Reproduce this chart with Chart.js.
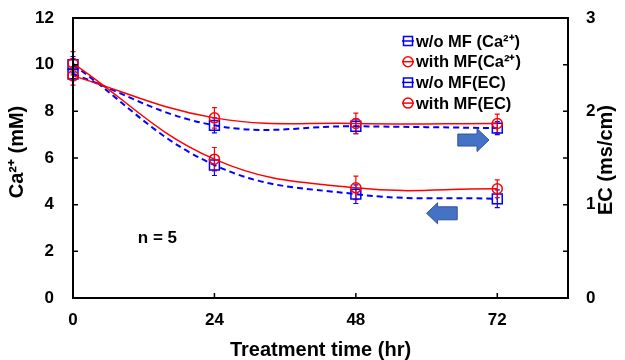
<!DOCTYPE html>
<html>
<head>
<meta charset="utf-8">
<script src="https://cdn.jsdelivr.net/npm/chart.js@4/dist/chart.umd.min.js"></script>
<style>
  html, body { margin: 0; padding: 0; background: #fff; }
</style>
</head>
<body>
<canvas id="myChart" width="625" height="360"></canvas>
<script>
// hours of treatment
const hours = [0, 24, 48, 72];
const xTicks = [0, 24, 48, 72];

// Ca2+ (mM), left axis
const caWithout = [10.0, 5.7, 4.45, 4.25];
const caWithoutErr = [0.35, 0.45, 0.4, 0.38];
const caWith = [10.06, 5.95, 4.72, 4.68];
const caWithErr = [0.5, 0.5, 0.5, 0.38];

// EC (ms/cm), right axis
const ecWithout = [2.4, 1.85, 1.84, 1.82];
const ecWithoutErr = [0.05, 0.08, 0.08, 0.07];
const ecWith = [2.38, 1.93, 1.87, 1.87];
const ecWithErr = [0.1, 0.11, 0.11, 0.1];

const legendLabels = ['w/o MF (Ca²⁺)', 'with MF(Ca²⁺)', 'w/o MF(EC)', 'with MF(EC)'];

const FONT = 'Liberation Sans, Arial, sans-serif';
Chart.defaults.font.family = FONT;
Chart.defaults.color = '#000';

const BLUE = '#0000ff';
const RED = '#ff0000';

function pts(vals) {
  return hours.map((h, i) => ({ x: h, y: vals[i] }));
}

function blueSet(label, vals, errs, axis) {
  return {
    label: label, data: pts(vals), yAxisID: axis, errors: errs,
    borderColor: BLUE, borderWidth: 2, borderDash: [6, 4],
    pointStyle: 'rect', pointRadius: 7, pointBorderWidth: 1.5,
    pointBorderColor: BLUE, pointBackgroundColor: 'rgba(0,0,0,0)',
    tension: 0.4, order: 2, clip: false
  };
}
function redSet(label, vals, errs, axis) {
  return {
    label: label, data: pts(vals), yAxisID: axis, errors: errs,
    borderColor: RED, borderWidth: 1.5,
    pointStyle: 'circle', pointRadius: 5, pointBorderWidth: 1.5,
    pointBorderColor: RED, pointBackgroundColor: 'rgba(0,0,0,0)',
    tension: 0.4, order: 1, clip: false
  };
}

// fixed axis boxes so the plot area sits where the original has it
function fixBox(size) {
  return s => {
    if (s.isHorizontal()) s.height = size; else s.width = size;
    s.paddingTop = 0; s.paddingBottom = 0;
    s.paddingLeft = 0; s.paddingRight = 0;
  };
}

// error bars, frame, inside ticks, arrows, legend, titles
const extras = {
  id: 'extras',
  beforeDatasetsDraw(chart) {
    const ctx = chart.ctx;
    const xs = chart.scales.x;
    chart.data.datasets.forEach(ds => {
      const ys = chart.scales[ds.yAxisID];
      ctx.save();
      ctx.strokeStyle = ds.borderColor;
      ctx.lineWidth = 1.2;
      ds.data.forEach((p, i) => {
        const x = xs.getPixelForValue(p.x);
        const t = ys.getPixelForValue(p.y + ds.errors[i]);
        const b = ys.getPixelForValue(p.y - ds.errors[i]);
        ctx.beginPath();
        ctx.moveTo(x, t); ctx.lineTo(x, b);
        ctx.moveTo(x - 2.5, t); ctx.lineTo(x + 2.5, t);
        ctx.moveTo(x - 2.5, b); ctx.lineTo(x + 2.5, b);
        ctx.stroke();
      });
      ctx.restore();
    });
  },
  afterDraw(chart) {
    const ctx = chart.ctx;
    const a = chart.chartArea;
    const xs = chart.scales.x, yl = chart.scales.y, yr = chart.scales.y1;
    ctx.save();
    // frame
    ctx.strokeStyle = '#000';
    ctx.lineWidth = 2;
    ctx.strokeRect(a.left, a.top, a.right - a.left, a.bottom - a.top);
    // inside ticks
    ctx.lineWidth = 1.5;
    ctx.beginPath();
    yl.ticks.forEach(t => {
      const y = yl.getPixelForValue(t.value);
      ctx.moveTo(a.left, y); ctx.lineTo(a.left + 5, y);
    });
    yr.ticks.forEach(t => {
      const y = yr.getPixelForValue(t.value);
      ctx.moveTo(a.right, y); ctx.lineTo(a.right - 5, y);
    });
    xTicks.forEach(v => {
      const x = xs.getPixelForValue(v);
      ctx.moveTo(x, a.bottom); ctx.lineTo(x, a.bottom - 5);
    });
    ctx.stroke();

    // block arrows
    function arrow(fromX, toX, yVal, shaft, head, headLen) {
      const x1 = xs.getPixelForValue(fromX);
      const x2 = xs.getPixelForValue(toX);
      const yc = yl.getPixelForValue(yVal);
      const dir = x2 > x1 ? 1 : -1;
      const hb = x2 - dir * headLen;
      ctx.beginPath();
      ctx.moveTo(x1, yc - shaft);
      ctx.lineTo(hb, yc - shaft);
      ctx.lineTo(hb, yc - head);
      ctx.lineTo(x2, yc);
      ctx.lineTo(hb, yc + head);
      ctx.lineTo(hb, yc + shaft);
      ctx.lineTo(x1, yc + shaft);
      ctx.closePath();
      ctx.fillStyle = '#4472c4';
      ctx.fill();
      ctx.strokeStyle = '#2f5597';
      ctx.lineWidth = 1;
      ctx.stroke();
    }
    arrow(65.3, 70.6, 6.77, 6, 11.5, 12);
    arrow(65.2, 60.0, 3.63, 6.5, 10.5, 11);

    // n = 5
    ctx.fillStyle = '#000';
    ctx.font = 'bold 17px ' + FONT;
    ctx.textAlign = 'left';
    ctx.textBaseline = 'middle';
    ctx.fillText('n = 5', xs.getPixelForValue(11), yl.getPixelForValue(2.55));

    // legend
    ctx.font = 'bold 16.5px ' + FONT;
    chart.data.datasets.forEach((ds, i) => {
      const cy = a.top + 23 + i * 20.7;
      const cx = a.right - 160;
      ctx.strokeStyle = ds.borderColor;
      ctx.lineWidth = 1.5;
      ctx.setLineDash([]);
      ctx.beginPath();
      ctx.moveTo(cx - 6, cy); ctx.lineTo(cx + 6, cy);
      ctx.stroke();
      ctx.beginPath();
      if (ds.pointStyle === 'rect') {
        ctx.rect(cx - 4.5, cy - 4.5, 9, 9);
      } else {
        ctx.arc(cx, cy, 5, 0, Math.PI * 2);
      }
      ctx.stroke();
      ctx.fillStyle = '#000';
      ctx.fillText(legendLabels[i], cx + 8, cy + 1);
    });

    // axis titles (both read bottom to top)
    ctx.font = 'bold 20px ' + FONT;
    ctx.textAlign = 'center';
    ctx.textBaseline = 'middle';
    ctx.save();
    ctx.translate(17, 152);
    ctx.rotate(-Math.PI / 2);
    ctx.fillText('Ca²⁺ (mM)', 0, 0);
    ctx.restore();
    ctx.save();
    ctx.translate(606, 160);
    ctx.rotate(-Math.PI / 2);
    ctx.fillText('EC (ms/cm)', 0, 0);
    ctx.restore();
    ctx.restore();
  }
};

const ctx = document.getElementById('myChart').getContext('2d');
const myChart = new Chart(ctx, {
  type: 'line',
  data: {
    datasets: [
      blueSet(legendLabels[0], caWithout, caWithoutErr, 'y'),
      redSet(legendLabels[1], caWith, caWithErr, 'y'),
      blueSet(legendLabels[2], ecWithout, ecWithoutErr, 'y1'),
      redSet(legendLabels[3], ecWith, ecWithErr, 'y1')
    ]
  },
  options: {
    responsive: false,
    animation: false,
    layout: { padding: { top: 18, left: 0, right: 0, bottom: 0 } },
    plugins: { legend: { display: false }, tooltip: { enabled: false } },
    scales: {
      x: {
        type: 'linear', min: 0, max: 84,
        grid: { display: false, drawTicks: false },
        border: { display: false },
        afterBuildTicks: s => { s.ticks = xTicks.map(v => ({ value: v })); },
        ticks: { font: { size: 17, weight: 'bold' }, padding: 12, maxRotation: 0 },
        title: { display: true, text: 'Treatment time (hr)', font: { size: 20, weight: 'bold', lineHeight: 1 }, padding: { top: 0, bottom: 0 } },
        afterFit: fixBox(62)
      },
      y: {
        position: 'left', min: 0, max: 12,
        grid: { display: false, drawTicks: false },
        border: { display: false },
        ticks: { stepSize: 2, font: { size: 17, weight: 'bold' }, padding: 19 },
        afterFit: fixBox(73)
      },
      y1: {
        position: 'right', min: 0, max: 3,
        grid: { display: false, drawTicks: false },
        border: { display: false },
        ticks: {
          stepSize: 0.5, font: { size: 17, weight: 'bold' }, padding: 18,
          callback: v => (Number.isInteger(v) ? v : '')
        },
        afterFit: fixBox(57)
      }
    }
  },
  plugins: [extras]
});
</script>
</body>
</html>
